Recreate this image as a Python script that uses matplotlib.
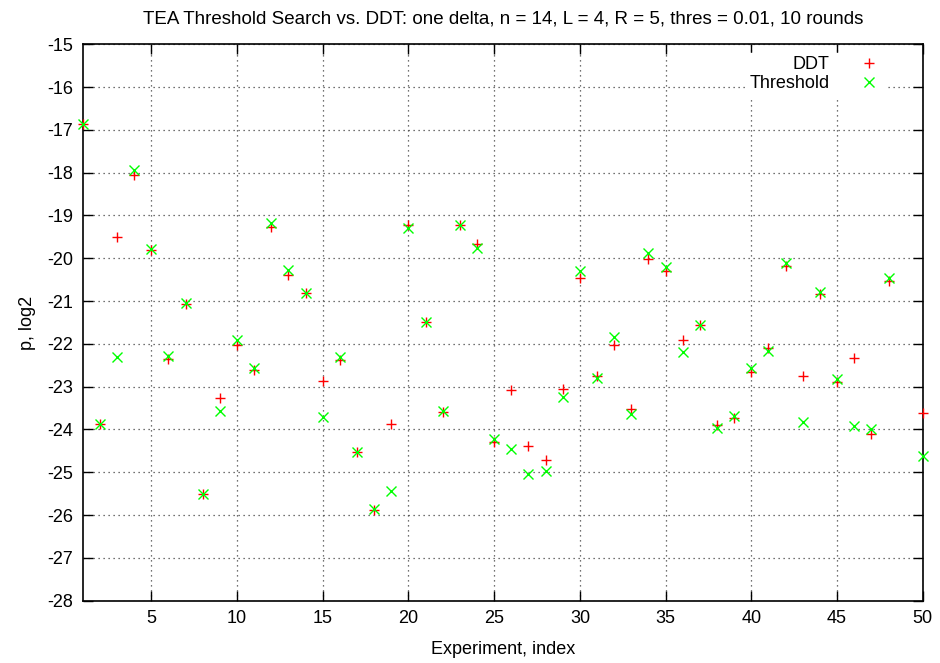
import numpy as np
import matplotlib.pyplot as plt

plt.rcParams['font.family'] = ['Liberation Sans', 'DejaVu Sans']
plt.rcParams['axes.unicode_minus'] = False

# experiment index and log2 probabilities
experiments = np.arange(1, 51)
ddt = [-16.86, -23.88, -19.51, -18.06, -19.80, -22.36, -21.07, -25.50, -23.26, -22.03,
       -22.62, -19.26, -20.39, -20.82, -22.87, -22.38, -24.52, -25.88, -23.87, -19.22,
       -21.48, -23.58, -19.22, -19.67, -24.30, -23.08, -24.38, -24.71, -23.06, -20.47,
       -22.76, -22.03, -23.53, -20.02, -20.29, -21.91, -21.56, -23.90, -23.74, -22.66,
       -22.09, -20.17, -22.75, -20.83, -22.88, -22.34, -24.11, -20.53, np.nan, -23.62]
threshold = [-16.86, -23.88, -22.30, -17.94, -19.78, -22.28, -21.05, -25.50, -23.57, -21.91,
             -22.57, -19.17, -20.27, -20.80, -23.72, -22.30, -24.52, -25.86, -25.43, -19.30,
             -21.48, -23.57, -19.22, -19.75, -24.23, -24.46, -25.05, -24.97, -23.25, -20.29,
             -22.80, -21.85, -23.64, -19.87, -20.20, -22.20, -21.56, -23.97, -23.68, -22.57,
             -22.17, -20.12, -23.82, -20.78, -22.82, -23.92, -24.00, -20.47, np.nan, -24.62]

x_ticks = list(range(5, 51, 5))
y_ticks = list(range(-28, -14))

fig = plt.figure(figsize=(9.4, 6.63), dpi=100)
ax = fig.add_axes([0.088, 0.094, 0.8937, 0.8392])

ax.plot(experiments, ddt, linestyle='none', marker='+', color='#ff0000',
        markersize=7, markeredgewidth=1.0, label='DDT', clip_on=False, zorder=3)
ax.plot(experiments, threshold, linestyle='none', marker='x', color='#00ff00',
        markersize=7, markeredgewidth=1.0, label='Threshold', clip_on=False, zorder=3)

ax.set_xlim(1, 50)
ax.set_ylim(-28, -15)
ax.set_xticks(x_ticks)
ax.set_yticks(y_ticks)
ax.grid(True, linestyle=(0, (1, 3)), color='#444444', linewidth=0.9)
ax.tick_params(direction='in', length=7, width=1, top=True, right=True,
               labelsize=13, pad=7)
for s in ax.spines.values():
    s.set_linewidth(1.2)

ax.set_title('TEA Threshold Search vs. DDT: one delta, n = 14, L = 4, R = 5, thres = 0.01, 10 rounds',
             fontsize=13.5, pad=15)
ax.set_xlabel('Experiment, index', fontsize=13, labelpad=10)
ax.set_ylabel('p, log2', fontsize=13, labelpad=8)

leg = ax.legend(loc='upper right', bbox_to_anchor=(0.956, 0.985), markerfirst=False,
                frameon=True, fontsize=13, handletextpad=1.4, borderaxespad=0,
                labelspacing=0.1, handlelength=1.5, borderpad=0.2)
leg.get_frame().set_edgecolor('white')
leg.get_frame().set_facecolor('white')
leg.get_frame().set_alpha(1)
leg.get_frame().set_boxstyle('square', pad=0)
for t in leg.get_texts():
    t.set_ha('right')

fig.savefig('out.png', dpi=100)
